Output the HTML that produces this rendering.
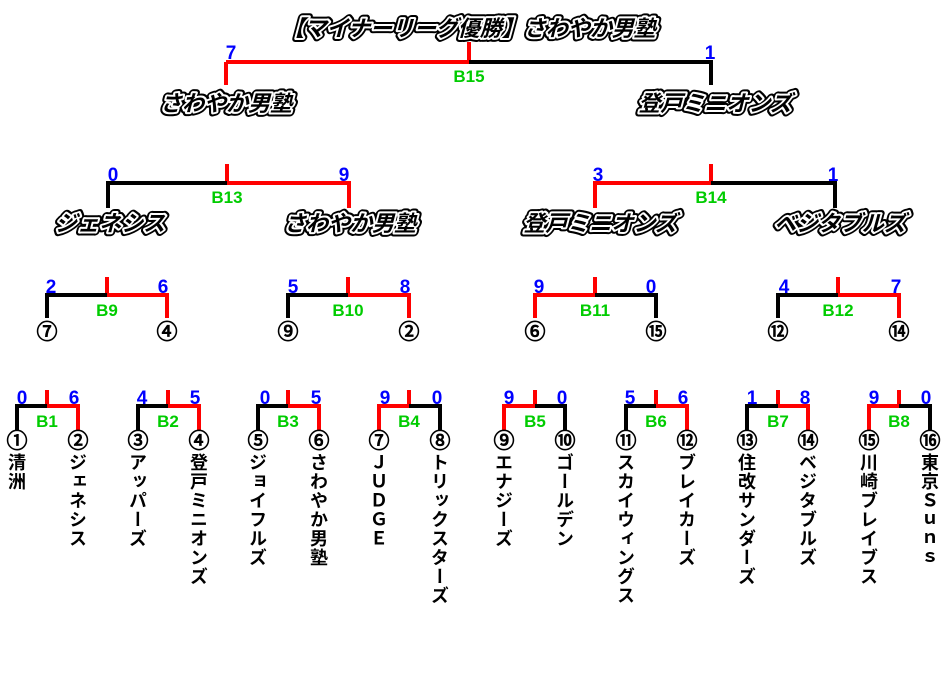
<!DOCTYPE html>
<html><head><meta charset="utf-8"><style>
body{margin:0;width:952px;height:686px;background:#fff;position:relative;overflow:hidden;font-family:"Liberation Sans","Noto Sans CJK JP",sans-serif}
svg{position:absolute;left:0;top:0}
.v{position:absolute;top:453px;width:20px;writing-mode:vertical-rl;text-orientation:upright;font-size:18px;line-height:20px;font-weight:bold;letter-spacing:1px;color:#000;font-family:"Noto Sans CJK JP",sans-serif}
</style></head><body>
<svg width="952" height="686" viewBox="0 0 952 686" font-family="Liberation Sans, Noto Sans CJK JP, sans-serif">
<g stroke-width="4" fill="none">
<path d="M469 42V62M226 62H469M226 62V85" stroke="#f00"/><path d="M469 62H711V85" stroke="#000"/>
<path d="M227 164V183H349V208" stroke="#f00"/><path d="M227 183H108V208" stroke="#000"/>
<path d="M711 164V183H595V208" stroke="#f00"/><path d="M711 183H835V208" stroke="#000"/>
<path d="M107 277V295H167V318" stroke="#f00"/><path d="M107 295H47V318" stroke="#000"/>
<path d="M348 277V295H409V318" stroke="#f00"/><path d="M348 295H288V318" stroke="#000"/>
<path d="M595 277V295H535V318" stroke="#f00"/><path d="M595 295H656V318" stroke="#000"/>
<path d="M838 277V295H899V318" stroke="#f00"/><path d="M838 295H778V318" stroke="#000"/>
<path d="M47 390V406H78V430" stroke="#f00"/><path d="M47 406H17V430" stroke="#000"/>
<path d="M168 390V406H199V430" stroke="#f00"/><path d="M168 406H138V430" stroke="#000"/>
<path d="M288 390V406H319V430" stroke="#f00"/><path d="M288 406H258V430" stroke="#000"/>
<path d="M409 390V406H379V430" stroke="#f00"/><path d="M409 406H440V430" stroke="#000"/>
<path d="M535 390V406H504V430" stroke="#f00"/><path d="M535 406H565V430" stroke="#000"/>
<path d="M656 390V406H687V430" stroke="#f00"/><path d="M656 406H626V430" stroke="#000"/>
<path d="M778 390V406H808V430" stroke="#f00"/><path d="M778 406H747V430" stroke="#000"/>
<path d="M899 390V406H869V430" stroke="#f00"/><path d="M899 406H930V430" stroke="#000"/>
</g>
<g fill="#00f" font-size="19" font-weight="bold" text-anchor="middle">
<text x="231" y="59">7</text><text x="710" y="59">1</text>
<text x="113" y="181">0</text><text x="344" y="181">9</text>
<text x="598" y="181">3</text><text x="833" y="181">1</text>
<text x="51" y="293">2</text><text x="163" y="293">6</text>
<text x="293" y="293">5</text><text x="405" y="293">8</text>
<text x="539" y="293">9</text><text x="651" y="293">0</text>
<text x="784" y="293">4</text><text x="896" y="293">7</text>
<text x="22" y="404">0</text><text x="74" y="404">6</text>
<text x="142" y="404">4</text><text x="195" y="404">5</text>
<text x="265" y="404">0</text><text x="316" y="404">5</text>
<text x="385" y="404">9</text><text x="437" y="404">0</text>
<text x="509" y="404">9</text><text x="562" y="404">0</text>
<text x="630" y="404">5</text><text x="683" y="404">6</text>
<text x="752" y="404">1</text><text x="805" y="404">8</text>
<text x="874" y="404">9</text><text x="926" y="404">0</text>
</g>
<g fill="#0c0" font-size="17" font-weight="bold" text-anchor="middle">
<text x="469" y="82">B15</text><text x="227" y="203">B13</text><text x="711" y="203">B14</text>
<text x="107" y="316">B9</text><text x="348" y="316">B10</text><text x="595" y="316">B11</text><text x="838" y="316">B12</text>
<text x="47" y="427">B1</text><text x="168" y="427">B2</text><text x="288" y="427">B3</text><text x="409" y="427">B4</text>
<text x="535" y="427">B5</text><text x="656" y="427">B6</text><text x="778" y="427">B7</text><text x="899" y="427">B8</text>
</g>
<g fill="#000" stroke="#000" stroke-width="0.9" font-size="21" text-anchor="middle" font-family="Noto Sans CJK JP, sans-serif">
<text x="47" y="339">⑦</text><text x="167" y="339">④</text><text x="288" y="339">⑨</text><text x="409" y="339">②</text>
<text x="535" y="339">⑥</text><text x="656" y="339">⑮</text><text x="778" y="339">⑫</text><text x="899" y="339">⑭</text>
<text x="17" y="448">①</text><text x="78" y="448">②</text><text x="138" y="448">③</text><text x="199" y="448">④</text>
<text x="258" y="448">⑤</text><text x="319" y="448">⑥</text><text x="379" y="448">⑦</text><text x="440" y="448">⑧</text>
<text x="504" y="448">⑨</text><text x="565" y="448">⑩</text><text x="626" y="448">⑪</text><text x="687" y="448">⑫</text>
<text x="747" y="448">⑬</text><text x="808" y="448">⑭</text><text x="869" y="448">⑮</text><text x="930" y="448">⑯</text>
</g>
<g font-size="22" font-weight="bold" text-anchor="middle" font-family="Noto Sans CJK JP, sans-serif">
<g stroke="#000" stroke-width="8" stroke-linejoin="round" fill="#000">
<text transform="translate(469,36) skewX(-15)">【マイナーリーグ優勝】さわやか男塾</text>
<text transform="translate(226,111) skewX(-15)">さわやか男塾</text>
<text transform="translate(715,111) skewX(-15)">登戸ミニオンズ</text>
<text transform="translate(110,231) skewX(-15)">ジェネシス</text>
<text transform="translate(350,231) skewX(-15)">さわやか男塾</text>
<text transform="translate(600,231) skewX(-15)">登戸ミニオンズ</text>
<text transform="translate(840,231) skewX(-15)">ベジタブルズ</text>
</g>
<g stroke="#fff" stroke-width="4" stroke-linejoin="round" fill="#000" paint-order="stroke">
<text transform="translate(469,36) skewX(-15)">【マイナーリーグ優勝】さわやか男塾</text>
<text transform="translate(226,111) skewX(-15)">さわやか男塾</text>
<text transform="translate(715,111) skewX(-15)">登戸ミニオンズ</text>
<text transform="translate(110,231) skewX(-15)">ジェネシス</text>
<text transform="translate(350,231) skewX(-15)">さわやか男塾</text>
<text transform="translate(600,231) skewX(-15)">登戸ミニオンズ</text>
<text transform="translate(840,231) skewX(-15)">ベジタブルズ</text>
</g>
</g>
</svg>
<div class="v" style="left:7px">清洲</div>
<div class="v" style="left:68px">ジェネシス</div>
<div class="v" style="left:128px">アッパーズ</div>
<div class="v" style="left:189px">登戸ミニオンズ</div>
<div class="v" style="left:248px">ジョイフルズ</div>
<div class="v" style="left:309px">さわやか男塾</div>
<div class="v" style="left:369px">ＪＵＤＧＥ</div>
<div class="v" style="left:430px">トリックスターズ</div>
<div class="v" style="left:494px">エナジーズ</div>
<div class="v" style="left:555px">ゴールデン</div>
<div class="v" style="left:616px">スカイウィングス</div>
<div class="v" style="left:677px">ブレイカーズ</div>
<div class="v" style="left:737px">住改サンダーズ</div>
<div class="v" style="left:798px">ベジタブルズ</div>
<div class="v" style="left:859px">川崎ブレイブス</div>
<div class="v" style="left:920px">東京Ｓｕｎｓ</div>
</body></html>
